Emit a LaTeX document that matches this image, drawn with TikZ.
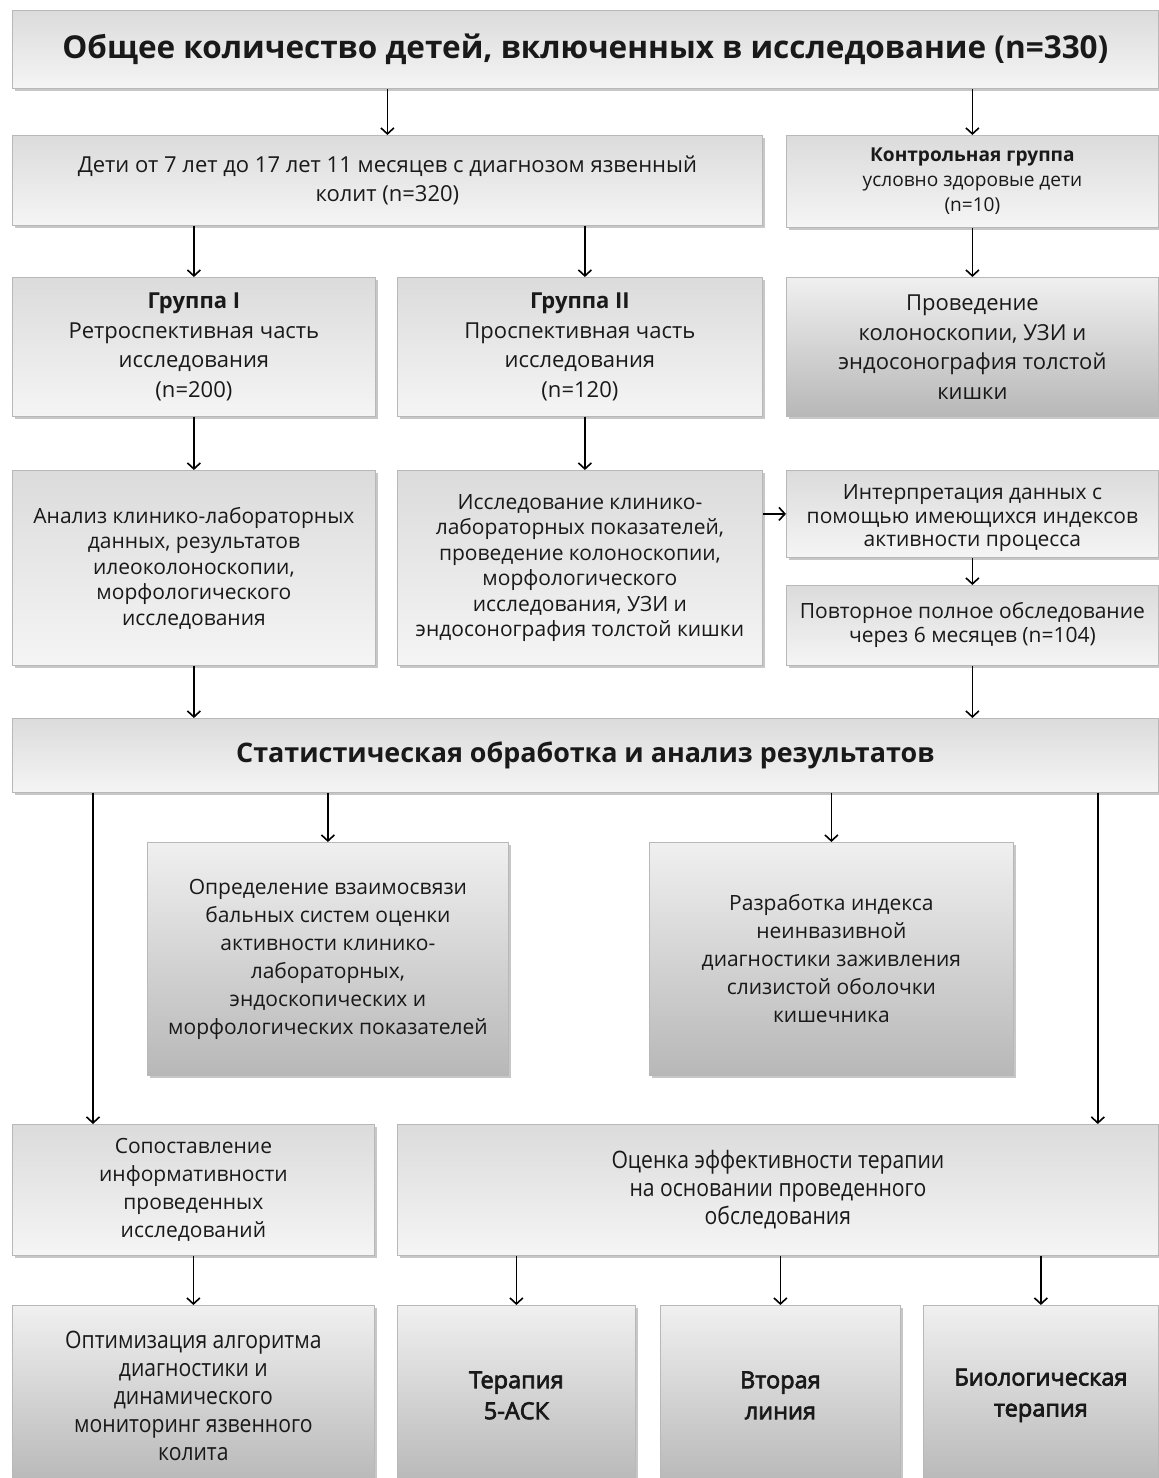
\documentclass[tikz,border=0pt]{standalone}
\usepackage{fontspec}
\setmainfont{Open Sans}
\newfontfamily\condfont[FakeStretch=0.88]{Open Sans}
\newfontfamily\semib[FakeBold=3]{Open Sans}
\usetikzlibrary{arrows.meta,shadows,calc}
\tikzset{
  base/.style={draw=black!28, line width=0.8pt, anchor=north west, align=center,
    inner sep=2pt, text=black!90,
    drop shadow={shadow xshift=3pt, shadow yshift=-3pt, opacity=0.22, fill=black}},
  lightbox/.style={base, top color=black!14, bottom color=black!4},
  darkbox/.style={base, top color=black!6, bottom color=black!28},
  arr/.style={line width=1.6pt, -{Straight Barb[length=6pt,width=13pt,line width=1.6pt]}},
  fA/.style={font=\fontsize{22}{28.5}\selectfont},
  fB/.style={font=\fontsize{19.1}{25}\selectfont},
  fC/.style={font=\fontsize{22}{29.5}\selectfont},
  fD/.style={font=\fontsize{21}{25.5}\selectfont},
  fE/.style={font=\fontsize{21}{28}\selectfont},
  fCond/.style={font=\condfont\fontsize{24}{28}\selectfont},
  fBig/.style={font=\semib\fontsize{23.5}{31}\selectfont},
}
\begin{document}
\begin{tikzpicture}[x=1pt,y=-1pt]
\useasboundingbox (0,0) rectangle (1159,1478);
\fill[white] (0,0) rectangle (1159,1478);

\node[lightbox, minimum width=1146pt, minimum height=78pt, font=\bfseries\fontsize{31.5}{36}\selectfont] (top) at (12,10)
  {Общее количество детей, включенных в исследование (n=330)};

\node[lightbox, fA, minimum width=750pt, minimum height=90pt] (deti) at (12,135)
  {Дети от 7 лет до 17 лет 11 месяцев с диагнозом язвенный\\колит (n=320)};
\node[lightbox, fB, minimum width=372pt, minimum height=92pt] (ctrl) at (786,135)
  {\textbf{Контрольная группа}\\условно здоровые дети\\(n=10)};

\node[lightbox, fC, minimum width=363pt, minimum height=139pt] (g1) at (12,277)
  {\textbf{Группа I}\\Ретроспективная часть\\исследования\\(n=200)};
\node[lightbox, fC, minimum width=365pt, minimum height=139pt] (g2) at (397,277)
  {\textbf{Группа II}\\Проспективная часть\\исследования\\(n=120)};
\node[darkbox, fC, minimum width=372pt, minimum height=139pt] (prov) at (786,277)
  {Проведение\\колоноскопии, УЗИ и\\эндосонография толстой\\кишки};

\node[lightbox, fD, minimum width=363pt, minimum height=195pt] (anal) at (12,470)
  {Анализ клинико-лабораторных\\данных, результатов\\илеоколоноскопии,\\морфологического\\исследования};
\node[lightbox, fD, minimum width=365pt, minimum height=195pt] (issl) at (397,470)
  {Исследование клинико-\\лабораторных показателей,\\проведение колоноскопии,\\морфологического\\исследования, УЗИ и\\эндосонография толстой кишки};
\node[lightbox, font=\fontsize{21}{23.5}\selectfont, minimum width=372pt, minimum height=87pt] (interp) at (786,470)
  {\rule{0pt}{24pt}Интерпретация данных с\\помощью имеющихся индексов\\активности процесса};
\node[lightbox, font=\fontsize{21}{24}\selectfont, minimum width=372pt, minimum height=80pt] (povt) at (786,585)
  {Повторное полное обследование\\через 6 месяцев (n=104)};

\node[lightbox, minimum width=1146pt, minimum height=74pt, font=\bfseries\fontsize{26.9}{32}\selectfont] (stat) at (12,718)
  {Статистическая обработка и анализ результатов};

\node[darkbox, fE, minimum width=361pt, minimum height=233pt] (opr) at (147,842)
  {Определение взаимосвязи\\бальных систем оценки\\активности клинико-\\лабораторных,\\эндоскопических и\\морфологических показателей};
\node[darkbox, fE, minimum width=364pt, minimum height=233pt] (razr) at (649,842)
  {Разработка индекса\\неинвазивной\\диагностики заживления\\слизистой оболочки\\кишечника};

\node[lightbox, fE, minimum width=362pt, minimum height=131pt] (sop) at (12,1124)
  {Сопоставление\\информативности\\проведенных\\исследований};
\node[lightbox, fCond, minimum width=761pt, minimum height=131pt] (ocen) at (397,1124)
  {Оценка эффективности терапии\\на основании проведенного\\обследования};

\node[darkbox, fCond, minimum width=362pt, minimum height=180pt] (opt) at (12,1305)
  {Оптимизация алгоритма\\диагностики и\\динамического\\мониторинг язвенного\\колита};
\node[darkbox, fBig, minimum width=238pt, minimum height=180pt] (ter) at (397,1305)
  {Терапия\\5-АСК};
\node[darkbox, fBig, minimum width=240pt, minimum height=180pt] (vtor) at (660,1305)
  {Вторая\\линия};
\node[darkbox, fBig, minimum width=235pt, minimum height=180pt] (biol) at (923,1305)
  {Биологическая\\терапия};

% connectors
\draw[arr] (top.south -| deti.north) -- (deti.north);
\draw[arr] (top.south -| ctrl.north) -- (ctrl.north);
\draw[arr] (deti.south -| g1.north) -- (g1.north);
\draw[arr] ($(deti.south -| g2.north)+(5pt,0pt)$) -- ($(g2.north)+(5pt,0pt)$);
\draw[arr] (ctrl.south) -- (prov.north);
\draw[arr] (g1.south) -- (anal.north);
\draw[arr] ($(g2.south)+(5pt,0pt)$) -- ($(anal.north -| g2.south)+(5pt,0pt)$);
\draw[arr] (issl.east |- interp.west) -- (interp.west);
\draw[arr] (interp.south) -- (povt.north);
\draw[arr] (anal.south) -- (stat.north -| anal.south);
\draw[arr] (povt.south) -- (stat.north -| povt.south);
\draw[arr] (stat.south -| opr.north) -- (opr.north);
\draw[arr] (stat.south -| razr.north) -- (razr.north);
\draw[arr] ($(stat.south west)+(81pt,0pt)$) -- ($(sop.north west)+(81pt,0pt)$);
\draw[arr] ($(stat.south east)+(-61pt,0pt)$) -- ($(ocen.north east)+(-61pt,0pt)$);
\draw[arr] (sop.south) -- (opt.north);
\draw[arr] (ocen.south -| ter.north) -- (ter.north);
\draw[arr] (ocen.south -| vtor.north) -- (vtor.north);
\draw[arr] (ocen.south -| biol.north) -- (biol.north);
\end{tikzpicture}
\end{document}
